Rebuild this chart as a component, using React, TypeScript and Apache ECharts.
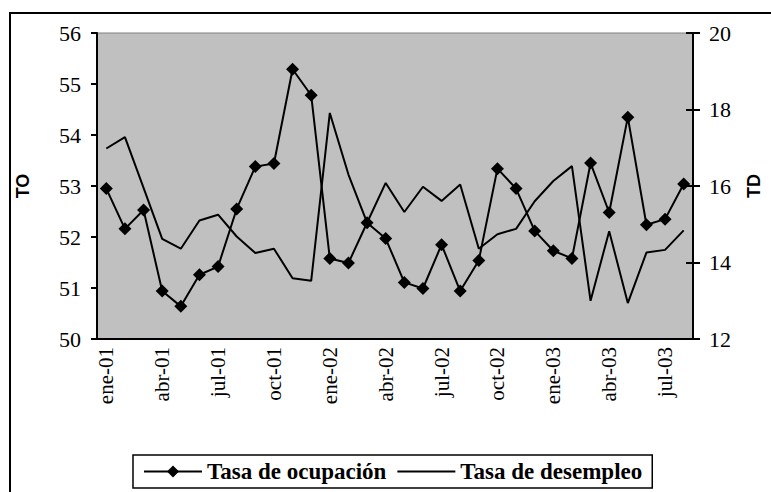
import React, { useEffect, useRef } from "react";
import * as echarts from "echarts";

const categories = [
  "ene-01","feb-01","mar-01","abr-01","may-01","jun-01","jul-01","ago-01","sep-01","oct-01","nov-01","dic-01",
  "ene-02","feb-02","mar-02","abr-02","may-02","jun-02","jul-02","ago-02","sep-02","oct-02","nov-02","dic-02",
  "ene-03","feb-03","mar-03","abr-03","may-03","jun-03","jul-03","ago-03",
];

const tasaOcupacion = [
  52.95, 52.16, 52.53, 50.94, 50.64, 51.26, 51.42, 52.55, 53.38, 53.44, 55.29, 54.78,
  51.58, 51.49, 52.28, 51.97, 51.11, 50.99, 51.85, 50.94, 51.54, 53.34, 52.95, 52.12,
  51.73, 51.58, 53.45, 52.48, 54.35, 52.24, 52.35, 53.04,
];

const tasaDesempleo = [
  16.98, 17.28, 15.95, 14.62, 14.36, 15.1, 15.25, 14.68, 14.25, 14.36, 13.59, 13.52,
  17.91, 16.3, 15.04, 16.08, 15.32, 15.98, 15.61, 16.04, 14.36, 14.74, 14.88, 15.6,
  16.13, 16.52, 13.0, 14.82, 12.94, 14.26, 14.33, 14.84,
];

const seriesNames = ["Tasa de ocupación", "Tasa de desempleo"];

const serif = "'Liberation Serif', 'Times New Roman', serif";
const sans = "'Liberation Sans', Arial, sans-serif";

export default function App() {
  const ref = useRef<HTMLDivElement>(null);
  useEffect(() => {
    if (!ref.current) return;
    const chart = echarts.init(ref.current, undefined, { renderer: "svg" });
    const yLabel = { fontFamily: serif, fontSize: 22, color: "#000" };
    const nameStyle = { fontFamily: sans, fontSize: 18, fontWeight: "bold", color: "#000" };
    chart.setOption({
      animation: false,
      backgroundColor: "#fff",
      graphic: [
        {
          type: "rect",
          shape: { x: 10, y: 13, width: 800, height: 500 },
          style: { fill: "none", stroke: "#000", lineWidth: 2 },
          silent: true,
        },
      ],
      grid: {
        left: 97,
        right: 65,
        top: 33,
        bottom: 153,
        show: true,
        backgroundColor: "#C0C0C0",
        borderColor: "#808080",
        borderWidth: 1,
      },
      legend: {
        data: [
          { name: seriesNames[0] },
          { name: seriesNames[1], itemStyle: { opacity: 0 } },
        ],
        left: 133,
        top: 455,
        itemWidth: 58,
        itemHeight: 15,
        itemGap: 10,
        padding: [5, 10, 5, 10],
        borderColor: "#000",
        borderWidth: 1.5,
        borderRadius: 0,
        backgroundColor: "#fff",
        textStyle: { fontFamily: serif, fontSize: 23, fontWeight: "bold", color: "#000" },
      },
      xAxis: {
        type: "category",
        data: categories,
        boundaryGap: true,
        axisLine: { lineStyle: { color: "#000", width: 2 } },
        axisTick: { interval: 2, length: 6, lineStyle: { color: "#000", width: 2 } },
        axisLabel: { fontFamily: serif, fontSize: 21, color: "#000", interval: 2, rotate: 90, margin: 8 },
        splitLine: { show: false },
      },
      yAxis: [
        {
          type: "value",
          position: "left",
          min: 50,
          max: 56,
          interval: 1,
          name: "TO",
          nameLocation: "middle",
          nameGap: 65,
          nameRotate: 90,
          nameTextStyle: nameStyle,
          axisLine: { show: true, lineStyle: { color: "#000", width: 2 } },
          axisTick: { show: true, length: 6, lineStyle: { color: "#000", width: 2 } },
          axisLabel: { ...yLabel, margin: 16 },
          splitLine: { show: false },
        },
        {
          type: "value",
          position: "right",
          min: 12,
          max: 20,
          interval: 2,
          name: "TD",
          nameLocation: "middle",
          nameGap: 52,
          nameRotate: 90,
          nameTextStyle: nameStyle,
          axisLine: { show: true, lineStyle: { color: "#000", width: 2 } },
          axisTick: { show: true, length: 7, lineStyle: { color: "#000", width: 2 } },
          axisLabel: { ...yLabel, margin: 16 },
          splitLine: { show: false },
        },
        {
          type: "value",
          position: "right",
          min: 12,
          max: 20,
          interval: 2,
          axisLine: { show: false },
          axisTick: { show: true, inside: true, length: 7, lineStyle: { color: "#000", width: 2 } },
          axisLabel: { show: false },
          splitLine: { show: false },
        },
      ],
      series: [
        {
          name: seriesNames[0],
          type: "line",
          yAxisIndex: 0,
          data: tasaOcupacion,
          symbol: "diamond",
          symbolSize: 13,
          showAllSymbol: true,
          lineStyle: { color: "#000", width: 2 },
          itemStyle: { color: "#000" },
        },
        {
          name: seriesNames[1],
          type: "line",
          yAxisIndex: 1,
          data: tasaDesempleo,
          symbol: "none",
          lineStyle: { color: "#000", width: 2 },
          itemStyle: { color: "#000" },
        },
      ],
    });
    return () => chart.dispose();
  }, []);
  return (
    <div
      ref={ref}
      style={{ position: "fixed", left: 0, top: 0, width: 771, height: 492 }}
    />
  );
}
